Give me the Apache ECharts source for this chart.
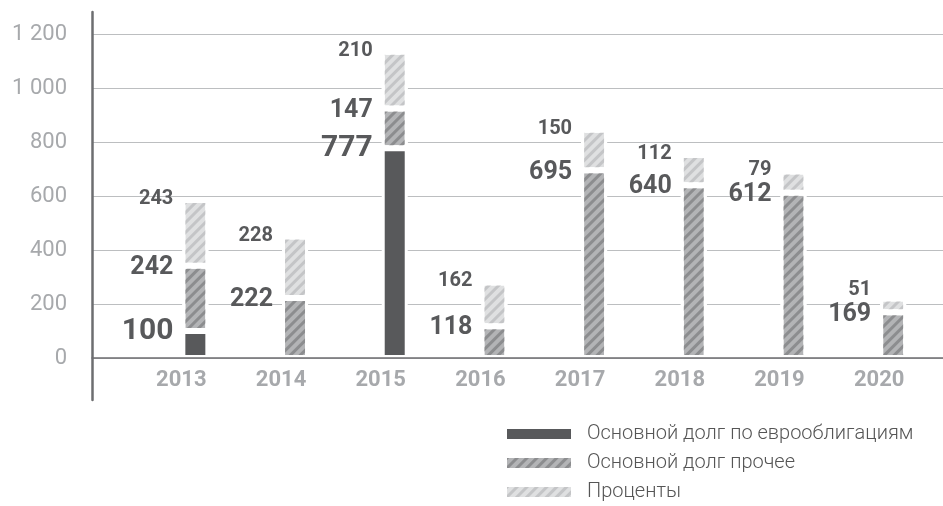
<!DOCTYPE html>
<html lang="ru">
<head>
  <meta charset="UTF-8">
  <title>Погашение долга</title>
  <script src="https://cdn.jsdelivr.net/npm/echarts@6/dist/echarts.min.js"></script>
  <style>
    html, body { margin: 0; padding: 0; background: #fff; }
  </style>
</head>
<body>
    <div id="main" style="width: 943px;height:506px;"></div>
    <script type="text/javascript">
        // данные с картинки
        var years = ['2013', '2014', '2015', '2016', '2017', '2018', '2019', '2020'];
        var eurobond = [100, null, 777, null, null, null, null, null];   // Основной долг по еврооблигациям
        var otherDebt = [242, 222, 147, 118, 695, 640, 612, 169];        // Основной долг прочее
        var interest = [243, 228, 210, 162, 150, 112, 79, 51];           // Проценты
        var yTicks = [0, 200, 400, 600, 800, 1000, 1200];

        var font = 'Roboto';
        var labelColor = '#58595b';
        var axisGrey = '#a7a9ac';

        function fmt(v) {
            return String(v).replace(/\B(?=(\d{3})+(?!\d))/g, ' ');
        }

        // штриховка "////"
        function stripes(color) {
            return {
                symbol: 'rect',
                symbolSize: 1,
                dashArrayX: [1, 0],
                dashArrayY: [3, 4],
                rotation: -Math.PI / 4,
                color: color
            };
        }

        function barLabel(size, dy) {
            return {
                show: true,
                position: [-9, dy],
                align: 'right',
                verticalAlign: 'middle',
                fontFamily: font,
                fontWeight: 'bold',
                fontSize: size,
                color: labelColor,
                formatter: function (p) { return p.value ? p.value : ''; }
            };
        }

        var myChart = echarts.init(document.getElementById('main'));

        var option = {
            animation: false,
            backgroundColor: '#fff',
            grid: [
                // сетка и подписи оси Y
                { left: 92, right: 0, top: 34, bottom: 148 },
                // столбцы
                { left: 145.5, width: 807, top: 34, bottom: 148 },
                // вертикальная линия оси
                { left: 92, width: 1, top: 12, bottom: 106 }
            ],
            legend: {
                orient: 'vertical',
                left: 505,
                top: 424,
                padding: 0,
                icon: 'rect',
                itemWidth: 66,
                itemHeight: 12,
                itemGap: 9,
                textStyle: {
                    fontFamily: font,
                    fontWeight: 300,
                    fontSize: 20,
                    lineHeight: 18,
                    padding: [0, 0, 0, 10],
                    color: '#555'
                },
                data: ['Основной долг по еврооблигациям', 'Основной долг прочее', 'Проценты']
            },
            xAxis: [
                {
                    gridIndex: 0, type: 'value', min: 0, max: 1, z: 5,
                    axisLine: { show: true, lineStyle: { color: '#6d6e70', width: 1.5 } },
                    axisTick: { show: false }, axisLabel: { show: false }, splitLine: { show: false }
                },
                {
                    gridIndex: 1, type: 'category', data: years,
                    axisLine: { show: false }, axisTick: { show: false },
                    axisLabel: {
                        margin: 11,
                        padding: [0, 28, 0, 0],
                        fontFamily: font,
                        fontWeight: 'bold',
                        fontSize: 22,
                        color: axisGrey
                    }
                },
                {
                    gridIndex: 2, type: 'value', show: false
                }
            ],
            yAxis: [
                {
                    gridIndex: 0, type: 'value', min: 0, max: 1200, interval: 200,
                    axisLine: { show: false }, axisTick: { show: false },
                    axisLabel: {
                        margin: 25,
                        fontFamily: font,
                        fontSize: 22,
                        color: axisGrey,
                        formatter: fmt
                    },
                    splitLine: { lineStyle: { color: '#bcbec0', width: 1.2 } }
                },
                {
                    gridIndex: 1, type: 'value', min: 0, max: 1200, show: false
                },
                {
                    gridIndex: 2, type: 'value', min: 0, max: 1,
                    axisLine: { show: true, lineStyle: { color: '#6d6e70', width: 2.5 } },
                    axisTick: { show: false }, axisLabel: { show: false }, splitLine: { show: false }
                }
            ],
            series: [
                {
                    name: 'Основной долг по еврооблигациям',
                    type: 'bar', stack: 'debt', xAxisIndex: 1, yAxisIndex: 1,
                    barWidth: 26,
                    itemStyle: { color: '#58595b', borderColor: '#fff', borderWidth: 3 },
                    label: barLabel(30, 0),
                    data: eurobond
                },
                {
                    name: 'Основной долг прочее',
                    type: 'bar', stack: 'debt', xAxisIndex: 1, yAxisIndex: 1,
                    barWidth: 26,
                    itemStyle: { color: '#b3b4b6', borderColor: '#fff', borderWidth: 3, decal: stripes('#8c8d8f') },
                    label: barLabel(25, 2),
                    data: otherDebt
                },
                {
                    name: 'Проценты',
                    type: 'bar', stack: 'debt', xAxisIndex: 1, yAxisIndex: 1,
                    barWidth: 26,
                    itemStyle: { color: '#dfe0e1', borderColor: '#fff', borderWidth: 3, decal: stripes('#c4c5c7') },
                    label: barLabel(20, -1),
                    // маленькие сегменты: подпись чуть выше, чтобы не налезала
                    labelLayout: function (p) {
                        return p.rect.height < 18 ? { dy: -8 } : {};
                    },
                    data: interest
                }
            ]
        };

        myChart.setOption(option);
    </script>
</body>
</html>
